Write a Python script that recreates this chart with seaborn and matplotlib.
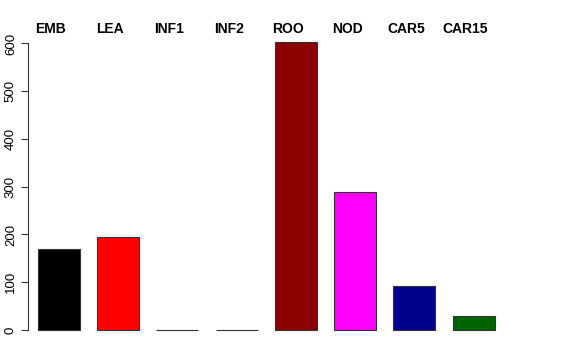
import matplotlib
matplotlib.use("Agg")
import matplotlib.pyplot as plt
import seaborn as sns
import pandas as pd

categories = ["EMB", "LEA", "INF1", "INF2", "ROO", "NOD", "CAR5", "CAR15"]
values = [169, 194, 1, 1, 602, 289, 93, 29]
colors = ["#000000", "#FF0000", "#3a5a3a", "#404040", "#8B0000", "#FF00FF", "#00008B", "#006400"]
yticks = [0, 100, 200, 300, 400, 500, 600]

sns.set_style("white")
plt.rcParams['font.family'] = ['Liberation Sans', 'DejaVu Sans']
plt.rcParams['text.color'] = 'black'
plt.rcParams['ytick.color'] = 'black'
plt.rcParams['ytick.labelcolor'] = 'black'

df = pd.DataFrame({"cat": categories, "val": values})

fig = plt.figure(figsize=(5.76, 3.6), dpi=100)
ax = fig.add_axes([28/576, 1 - 341.5/360, (504.5 - 28)/576, (341.5 - 31)/360])

sns.barplot(data=df, x="cat", y="val", hue="cat", palette=colors, legend=False,
            width=0.71, edgecolor="#333333", linewidth=0.8, ax=ax, saturation=1)

ax.set_xlim(-0.523, 7.523)
ymax = max(values)
ax.set_ylim(-0.04 * ymax, ymax * 1.04)
ax.set_xlabel("")
ax.set_ylabel("")
ax.set_xticks([])
ax.set_yticks(yticks)
ax.set_yticklabels([str(t) for t in yticks], rotation=90, va="center", fontsize=9.5, color="black")
ax.tick_params(axis="y", length=5, width=0.8, color="#333333", pad=3, left=True)
for s in ["top", "right", "bottom"]:
    ax.spines[s].set_visible(False)
ax.spines["left"].set_bounds(0, 600)
ax.spines["left"].set_color("#333333")
ax.spines["left"].set_linewidth(0.8)

for i, c in enumerate(categories):
    ax.annotate(c, xy=(i, 1), xycoords=ax.get_xaxis_transform(),
                xytext=(-5.8, 1.5), textcoords="offset points",
                ha="center", va="center", fontsize=10, fontweight="bold", color="black")

fig.savefig("out.png", dpi=100)
